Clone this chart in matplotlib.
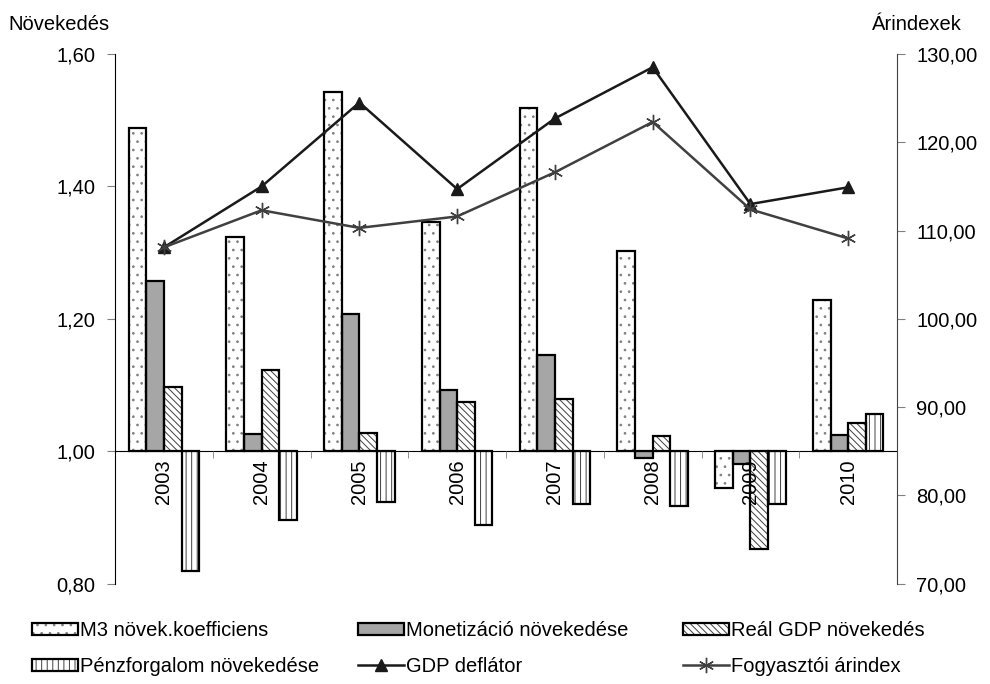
import numpy as np
import matplotlib
matplotlib.use("Agg")
import matplotlib.pyplot as plt
from matplotlib.legend_handler import HandlerTuple

plt.rcParams["font.family"] = ["Liberation Sans", "DejaVu Sans"]
plt.rcParams["font.size"] = 14.5
plt.rcParams["hatch.linewidth"] = 0.7

years = ["2003", "2004", "2005", "2006", "2007", "2008", "2009", "2010"]

# left axis (growth coefficients)
m3 = [1.488, 1.323, 1.543, 1.346, 1.518, 1.302, 0.944, 1.228]
monet = [1.257, 1.026, 1.207, 1.092, 1.146, 0.990, 0.981, 1.024]
real_gdp = [1.097, 1.122, 1.028, 1.074, 1.079, 1.023, 0.853, 1.043]
penz = [0.819, 0.896, 0.923, 0.888, 0.921, 0.917, 0.921, 1.056]

# right axis (price indices)
gdp_defl = [108.1, 115.0, 124.5, 114.7, 122.7, 128.5, 113.0, 114.9]
cpi = [108.1, 112.3, 110.3, 111.6, 116.6, 122.3, 112.4, 109.1]

left_ticks = [0.80, 1.00, 1.20, 1.40, 1.60]
left_labels = ["0,80", "1,00", "1,20", "1,40", "1,60"]
right_ticks = [70, 80, 90, 100, 110, 120, 130]
right_labels = ["70,00", "80,00", "90,00", "100,00", "110,00", "120,00", "130,00"]

x = np.arange(len(years))
w = 0.18
base = 1.0

fig = plt.figure(figsize=(9.9, 6.84), dpi=100)
ax = fig.add_axes([0.1162, 0.1466, 0.7899, 0.7745])

# spine position first: it resets the tick objects
ax.spines["bottom"].set_position(("data", base))
ax.spines["top"].set_visible(False)
ax.spines["right"].set_visible(False)
ax.spines["left"].set_color("black")


def hatched_bar(pos, vals, face, hatch, hcolor):
    h = np.array(vals) - base
    fill = ax.bar(pos, h, w, bottom=base, color=face, hatch=hatch,
                  edgecolor=hcolor, linewidth=0, zorder=1)
    edge = ax.bar(pos, h, w, bottom=base, fill=False,
                  edgecolor="black", linewidth=1.6, zorder=1.2)
    return (fill, edge)


b1 = hatched_bar(x - 1.5 * w, m3, "white", "..", "#7f7f7f")
b2 = hatched_bar(x - 0.5 * w, monet, "#a6a6a6", None, "#a6a6a6")
b3 = hatched_bar(x + 0.5 * w, real_gdp, "white", "\\\\\\\\\\", "#404040")
b4 = hatched_bar(x + 1.5 * w, penz, "white", "|||", "#404040")

ax.set_xlim(-0.5, len(years) - 0.5)
ax.set_ylim(0.80, 1.60)
ax.set_yticks(left_ticks)
ax.set_yticklabels(left_labels)
ax.set_xticks(x)
ax.set_xticklabels(years)
ax.set_xticks(x[:-1] + 0.5, minor=True)
ax.tick_params(axis="x", which="major", length=0, pad=6, labelrotation=90)
ax.tick_params(axis="x", which="minor", length=5, color="#808080")
ax.tick_params(axis="y", length=6, color="#808080", pad=8)
for lab in ax.get_xticklabels():
    lab.set_va("top")
ax.xaxis.set_zorder(4)

ax2 = ax.twinx()
ax2.set_ylim(70, 130)
ax2.set_yticks(right_ticks)
ax2.set_yticklabels(right_labels)
ax2.tick_params(axis="y", length=6, color="#808080", pad=8)
for s in ["top", "bottom", "left"]:
    ax2.spines[s].set_visible(False)
ax2.spines["right"].set_color("#404040")

l1, = ax2.plot(x, gdp_defl, color="#1a1a1a", lw=1.8, marker="^",
               markersize=9, markerfacecolor="#1a1a1a", markeredgecolor="#1a1a1a")
l2, = ax2.plot(x, cpi, color="#404040", lw=1.8, marker=(6, 2, 0),
               markersize=11, markeredgecolor="#404040", markeredgewidth=1.0)

fig.text(8 / 990, 1 - 25 / 684, "Növekedés", va="center", ha="left")
fig.text(962 / 990, 1 - 25 / 684, "Árindexek", va="center", ha="right")

leg_kw = dict(loc="upper left", frameon=False, borderpad=0, borderaxespad=0,
              handlelength=2.3, handleheight=0.5, handletextpad=0.1,
              labelspacing=0.84, numpoints=1,
              handler_map={tuple: HandlerTuple(ndivide=1, pad=0)})
cols = [
    ([b1, b4], ["M3 növek.koefficiens", "Pénzforgalom növekedése"], 32),
    ([b2, l1], ["Monetizáció növekedése", "GDP deflátor"], 358),
    ([b3, l2], ["Reál GDP növekedés", "Fogyasztói árindex"], 683),
]
for handles, labels, xpos in cols:
    fig.legend(handles, labels, bbox_to_anchor=(xpos / 990, 1 - 621 / 684), **leg_kw)

fig.savefig("out.png", dpi=100)
